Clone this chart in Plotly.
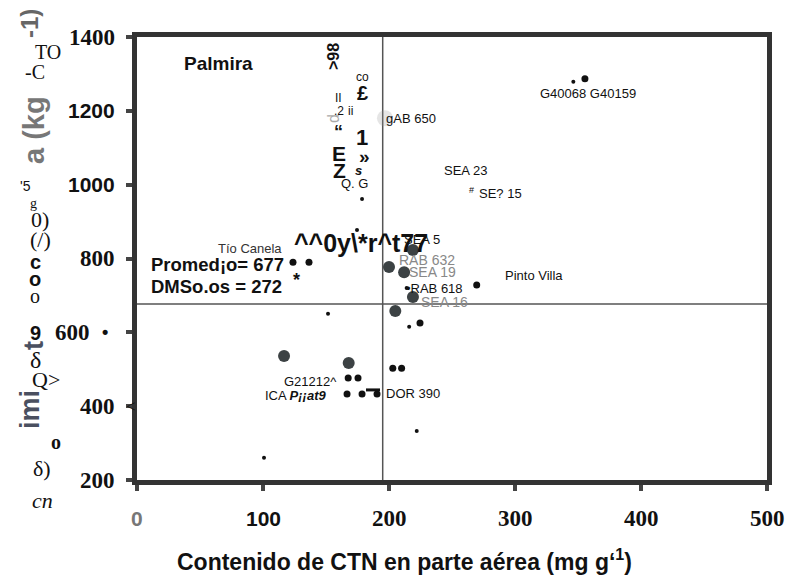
import plotly.graph_objects as go

# ---- data ----
big_x = [219, 200, 212, 219, 205, 116.7, 168]
big_y = [823, 777, 763, 696, 658, 536, 517]

mid_x = [355.5, 123.8, 136.5, 269.6, 224.6, 203, 210, 167.6, 175.4, 166.7, 178.6, 190.5]
mid_y = [1287, 790, 790, 728, 625, 503, 503, 476, 476, 433, 433, 433]

small_x = [346.3, 178.6, 174.6, 214, 216, 151.6, 222, 100.8]
small_y = [1279, 961, 877, 720, 615, 650, 333, 260]

faded_x = [196.8]
faded_y = [1180]

bar_x = [187.3]
bar_y = [444]

mean_y = 677      # Promedio
mean_x = 195

x_ticks = [0, 100, 200, 300, 400, 500]
x_labels = ["0", "100", "200", "300", "400", "500"]
y_ticks = [200, 400, 600, 800, 1000, 1200, 1400]
y_labels = ["200", "400", "600", "800", "1000", "1200", "1400"]

SANS = "Liberation Sans, Arial, sans-serif"
SERIF = "Liberation Serif, Times New Roman, serif"

X0, X1, Y0, Y1 = 0, 500, 200, 1400
L, R, T, B = 137, 767, 37, 480

fig = go.Figure()

# reference lines
fig.add_trace(go.Scatter(x=[X0, X1], y=[mean_y, mean_y], mode="lines",
                         line=dict(color="#555", width=1.5), hoverinfo="skip"))
fig.add_trace(go.Scatter(x=[mean_x, mean_x], y=[Y0, Y1], mode="lines",
                         line=dict(color="#555", width=1.5), hoverinfo="skip"))

fig.add_trace(go.Scatter(x=faded_x, y=faded_y, mode="markers",
                         marker=dict(size=16, color="rgba(150,150,150,0.25)")))
fig.add_trace(go.Scatter(x=big_x, y=big_y, mode="markers",
                         marker=dict(size=12, color="#3c4244")))
fig.add_trace(go.Scatter(x=mid_x, y=mid_y, mode="markers",
                         marker=dict(size=7, color="#111")))
fig.add_trace(go.Scatter(x=small_x, y=small_y, mode="markers",
                         marker=dict(size=4, color="#111")))
fig.add_trace(go.Scatter(x=bar_x, y=bar_y, mode="markers",
                         marker=dict(symbol="line-ew", size=10, line=dict(width=3, color="#111"))))

def px(x):
    return (x - L) / (R - L)
def py(y):
    return (B - y) / (B - T)

ann = []
def add(x, y, text, size=13, fam=SANS, color="#111", angle=0, xanchor="center"):
    ann.append(dict(x=px(x), y=py(y), xref="paper", yref="paper", text=text,
                    showarrow=False, textangle=angle, xanchor=xanchor, yanchor="middle",
                    font=dict(size=size, family=fam, color=color)))

# tick labels (mixed fonts as in the scan)
x_fonts = [(SANS, 21, "#777"), (SANS, 21, "#111"), (SERIF, 23, "#111"),
           (SERIF, 23, "#111"), (SERIF, 23, "#111"), (SERIF, 23, "#111")]
for v, lab, (fam, sz, col) in zip(x_ticks, x_labels, x_fonts):
    ann.append(dict(x=v, y=py(518), xref="x", yref="paper", text="<b>%s</b>" % lab,
                    showarrow=False, xanchor="center", yanchor="middle",
                    font=dict(size=sz, family=fam, color=col)))
y_fonts = [SERIF, SERIF, SERIF, SERIF, SANS, SANS, SERIF]
y_right = [117, 117, 92, 117, 117, 117, 117]
for v, lab, fam, xr in zip(y_ticks, y_labels, y_fonts, y_right):
    ann.append(dict(x=px(xr), y=v, xref="paper", yref="y", text="<b>%s</b>" % lab,
                    showarrow=False, xanchor="right", yanchor="middle",
                    font=dict(size=23 if fam == SERIF else 21, family=fam, color="#111")))
add(105, 332, "<b>•</b>", 18)
add(131, 406, "&lt;", 17, SERIF)

# in-plot labels
add(218, 63, "<b>Palmira</b>", 19)
add(588, 94, "G40068 G40159", 13)
add(384, 118, "gAB 650", 13, xanchor="left")
add(442, 170, "SEA 23", 13, xanchor="left")
add(467, 190, "#", 9, xanchor="left")
add(477, 194, "SE? 15", 13, xanchor="left")
add(402, 240, "SEA 5", 13, xanchor="left")
add(397, 260, "RAB 632", 14, color="#888", xanchor="left")
add(407, 272, "SEA 19", 14, color="#888", xanchor="left")
add(404, 288, "•RAB 618", 13, xanchor="left")
add(419, 302, "SEA 16", 14, color="#888", xanchor="left")
add(503, 275, "Pinto Villa", 13, xanchor="left")
add(216, 248, "Tío Canela", 13, color="#333", xanchor="left")
add(292, 243, "<b>^^0y\\*r^t77</b>", 25, xanchor="left")
add(149, 264, "<b>Promed¡o= 677</b>", 18.5, xanchor="left")
add(149, 286, "<b>DMSo.os = 272</b>", 18.5, xanchor="left")
add(296, 280, "<b>*</b>", 18)
add(282, 381, "G21212^", 13, xanchor="left")
add(263, 396, "ICA <b><i>P¡¡at9</i></b>", 13, xanchor="left")
add(384, 393, "DOR 390", 13, xanchor="left")

# top-centre noise
add(333, 57, "<b>&gt;98</b>", 16, angle=-90)
add(362, 77, "co", 12)
add(362, 93, "<b>£</b>", 20)
add(338, 98, "II", 12)
add(339, 111, ".2", 12)
add(350, 111, "ii", 12)
add(333, 119, "d", 16, color="#aaa", angle=-90)
add(338, 132, "<b>“</b>", 18)
add(362, 137, "<b>1</b>", 22)
add(339, 153, "<b>E</b>", 21)
add(364, 156, "<b>»</b>", 19)
add(339, 170, "<b>Z</b>", 21)
add(358, 170, "<b><i>s</i></b>", 13)
add(354, 184, "Q. G", 13)

# y axis title fragments
add(30, 24, "<b>-1)</b>", 24, color="#666", angle=-90)
add(34, 130, "<b>a (kg</b>", 29, color="#777", angle=-90)
add(30, 410, "<b>imi</b>", 27, color="#4a5060", angle=-90)
add(34, 346, "<b>t</b>", 27, color="#4a5060", angle=-90)
add(48, 52, "TO", 20, SERIF)
add(35, 72, "-C", 20, SERIF)
add(25, 186, "'5", 14)
add(33, 203, "g", 14, SERIF)
add(40, 219, "0)", 22, SERIF)
add(40, 240, "(/)", 22, SERIF)
add(35, 262, "<b>c</b>", 20)
add(35, 279, "<b>o</b>", 20)
add(35, 296, "o", 20, SERIF)
add(35, 333, "<b>9</b>", 20)
add(36, 360, "δ", 24, SERIF)
add(46, 379, "Q&gt;", 22, SERIF)
add(56, 442, "<b>o</b>", 20, SERIF)
add(42, 468, "δ)", 22, SERIF)
add(42, 500, "<i>cn</i>", 22, SERIF)

# x axis title
add(404, 560, "<b>Contenido de CTN en parte aérea (mg g‘<sup>1</sup>)</b>", 23)

fig.update_layout(
    width=791, height=585,
    margin=dict(l=L, r=791 - R, t=T, b=585 - B),
    paper_bgcolor="white", plot_bgcolor="white",
    showlegend=False,
    annotations=ann,
    xaxis=dict(range=[X0, X1], tickvals=x_ticks, showticklabels=False,
               showgrid=False, zeroline=False, showline=True, linewidth=5,
               linecolor="#333", mirror=True, ticks="outside", ticklen=6,
               tickwidth=4, tickcolor="#444"),
    yaxis=dict(range=[Y0, Y1], tickvals=y_ticks, showticklabels=False,
               showgrid=False, zeroline=False, showline=True, linewidth=5,
               linecolor="#333", mirror=True, ticks="outside", ticklen=6,
               tickwidth=4, tickcolor="#444"),
)

fig.write_html("out.html")
